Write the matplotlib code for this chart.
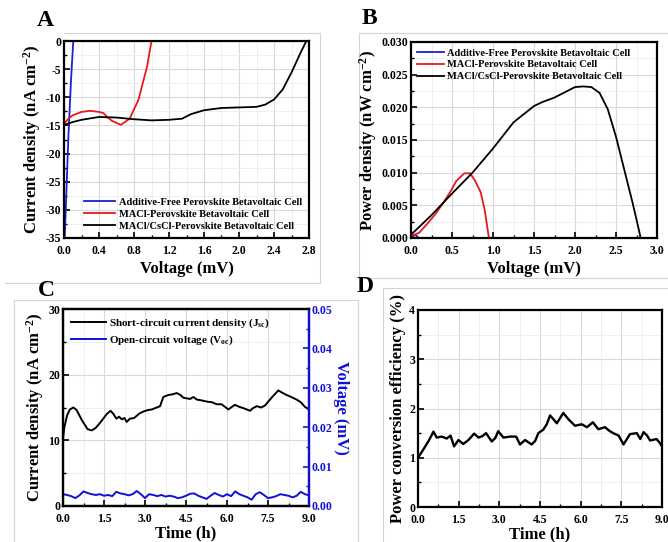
import matplotlib
matplotlib.use("Agg")
import matplotlib.pyplot as plt
from matplotlib.ticker import MultipleLocator, FormatStrFormatter
from matplotlib.lines import Line2D

plt.rcParams['font.family'] = ['Liberation Serif', 'DejaVu Serif']
plt.rcParams['font.weight'] = 'bold'
plt.rcParams['mathtext.fontset'] = 'custom'
plt.rcParams['mathtext.rm'] = 'Liberation Serif:bold'
plt.rcParams['mathtext.it'] = 'Liberation Serif:bold'
plt.rcParams['mathtext.bf'] = 'Liberation Serif:bold'

# ---------------- Data ----------------
# Panel A: J-V curves
a_blue_v = [0.0, 0.02, 0.05, 0.08, 0.106]
a_blue_j = [-38.0, -30.0, -17.0, -7.0, 0.0]
a_red_v = [0.0, 0.05, 0.1, 0.2, 0.3, 0.4, 0.45, 0.5, 0.55, 0.65, 0.75, 0.85, 0.95, 1.0]
a_red_j = [-14.7, -13.8, -13.2, -12.6, -12.4, -12.6, -12.8, -13.6, -14.2, -14.9, -13.8, -10.5, -4.5, 0.0]
a_blk_v = [0.0, 0.1, 0.2, 0.4, 0.6, 0.8, 1.0, 1.2, 1.35, 1.45, 1.6, 1.8, 2.0, 2.2, 2.3, 2.4, 2.5, 2.6, 2.7, 2.77]
a_blk_j = [-14.9, -14.4, -14.0, -13.5, -13.6, -13.9, -14.1, -14.0, -13.8, -13.0, -12.3, -11.9, -11.8, -11.7, -11.3, -10.4, -8.6, -5.6, -2.2, 0.0]

# Panel B: P-V curves
b_blue_v = [0.0, 0.05, 0.1]
b_blue_p = [0.0, 0.0005, 0.0]
b_red_v = [0.0, 0.1, 0.2, 0.3, 0.4, 0.5, 0.55, 0.65, 0.72, 0.78, 0.85, 0.9, 0.95]
b_red_p = [0.0003, 0.0008, 0.0022, 0.0037, 0.0055, 0.0075, 0.0087, 0.0099, 0.0099, 0.0088, 0.0070, 0.0042, 0.0]
b_blk_v = [0.0, 0.25, 0.5, 0.75, 1.0, 1.25, 1.5, 1.6, 1.75, 2.0, 2.1, 2.2, 2.3, 2.4, 2.5, 2.6, 2.7, 2.78, 2.8]
b_blk_p = [0.0005, 0.0035, 0.0068, 0.0100, 0.0137, 0.0177, 0.0202, 0.0208, 0.0215, 0.0231, 0.0232, 0.0231, 0.0222, 0.0197, 0.0155, 0.0105, 0.0055, 0.0012, 0.0]

# Panel C: stability (Jsc and Voc)
c_t = [0.0, 0.05, 0.15, 0.25, 0.38, 0.5, 0.7, 0.9, 1.05, 1.2, 1.4, 1.6, 1.74, 1.85, 1.95, 2.05, 2.15, 2.25, 2.33,
       2.45, 2.6, 2.8, 2.95, 3.1, 3.25, 3.43, 3.55, 3.67, 3.85, 4.0, 4.16, 4.3, 4.4, 4.52, 4.65, 4.77, 4.9,
       5.05, 5.26, 5.45, 5.62, 5.8, 6.05, 6.18, 6.29, 6.45, 6.6, 6.84, 6.95, 7.09, 7.25, 7.39, 7.57, 7.72, 7.88,
       8.0, 8.18, 8.35, 8.55, 8.7, 8.85, 9.0]
c_jsc = [10.3, 12.0, 13.8, 14.7, 15.0, 14.6, 13.0, 11.7, 11.5, 11.9, 12.9, 14.0, 14.5, 14.0, 13.3, 13.6, 13.2, 13.4, 12.8,
         13.3, 13.4, 14.1, 14.4, 14.6, 14.7, 15.0, 15.2, 16.6, 16.9, 17.0, 17.2, 16.9, 16.5, 16.4, 16.3, 16.6, 16.2,
         16.1, 15.9, 15.8, 15.5, 15.5, 14.7, 15.1, 15.4, 15.1, 14.9, 14.5, 14.9, 15.2, 15.0, 15.3, 16.2, 16.9, 17.6,
         17.3, 16.9, 16.6, 16.2, 15.8, 15.1, 14.7]
c_vt = [0.0, 0.15, 0.3, 0.45, 0.6, 0.75, 0.9, 1.05, 1.2, 1.35, 1.5, 1.65, 1.8, 1.95, 2.1, 2.25, 2.4, 2.55, 2.7, 2.85,
        3.0, 3.15, 3.3, 3.45, 3.6, 3.75, 3.9, 4.05, 4.2, 4.35, 4.5, 4.65, 4.8, 4.95, 5.1, 5.25, 5.4, 5.55, 5.7, 5.85,
        6.0, 6.15, 6.3, 6.45, 6.6, 6.75, 6.9, 7.05, 7.2, 7.35, 7.5, 7.65, 7.8, 7.95, 8.1, 8.25, 8.4, 8.55, 8.7, 8.85, 9.0]
c_voc = [0.0030, 0.0028, 0.0025, 0.0020, 0.0027, 0.0037, 0.0033, 0.0030, 0.0028, 0.0030, 0.0026, 0.0028, 0.0025, 0.0036,
         0.0032, 0.0030, 0.0027, 0.0030, 0.0038, 0.0030, 0.0020, 0.0030, 0.0028, 0.0025, 0.0028, 0.0024, 0.0026, 0.0024,
         0.0020, 0.0022, 0.0026, 0.0031, 0.0032, 0.0026, 0.0022, 0.0018, 0.0026, 0.0033, 0.0028, 0.0024, 0.0030, 0.0025,
         0.0037, 0.0030, 0.0026, 0.0022, 0.0016, 0.0030, 0.0035, 0.0028, 0.0020, 0.0022, 0.0025, 0.0030, 0.0028, 0.0026,
         0.0022, 0.0026, 0.0036, 0.0030, 0.0027]

# Panel D: PCE stability
d_t = [0.0, 0.2, 0.4, 0.57, 0.69, 0.87, 1.06, 1.2, 1.33, 1.49, 1.67, 1.86, 2.07, 2.23, 2.38, 2.51, 2.72, 2.85, 2.96,
       3.15, 3.4, 3.62, 3.76, 3.95, 4.19, 4.32, 4.44, 4.62, 4.75, 4.87, 5.0, 5.12, 5.36, 5.55, 5.79, 6.04, 6.23,
       6.45, 6.65, 6.9, 7.05, 7.2, 7.4, 7.58, 7.82, 8.07, 8.2, 8.32, 8.45, 8.56, 8.8, 8.92, 9.0]
d_pce = [1.0, 1.17, 1.35, 1.53, 1.41, 1.43, 1.39, 1.45, 1.23, 1.36, 1.28, 1.36, 1.49, 1.41, 1.44, 1.50, 1.33, 1.40, 1.54,
         1.41, 1.43, 1.43, 1.27, 1.36, 1.27, 1.34, 1.50, 1.57, 1.68, 1.86, 1.78, 1.70, 1.91, 1.78, 1.65, 1.68, 1.62,
         1.72, 1.58, 1.62, 1.55, 1.50, 1.45, 1.27, 1.48, 1.50, 1.38, 1.52, 1.45, 1.35, 1.38, 1.30, 1.23]

labels_cells = ['Additive-Free Perovskite Betavoltaic Cell',
                'MACl-Perovskite Betavoltaic Cell',
                'MACl/CsCl-Perovskite Betavoltaic Cell']
colors_cells = ['#1f1fd0', '#e8191b', 'black']

W, H = 668, 542
fig = plt.figure(figsize=(W / 100, H / 100), dpi=100)


def px_axes(l, t, r, b):
    return fig.add_axes([l / W, 1 - b / H, (r - l) / W, (b - t) / H])


def style(ax, xmaj, xmin, ymaj, ymin, fmtx, fmty):
    ax.xaxis.set_major_locator(MultipleLocator(xmaj))
    ax.xaxis.set_minor_locator(MultipleLocator(xmin))
    ax.yaxis.set_major_locator(MultipleLocator(ymaj))
    ax.yaxis.set_minor_locator(MultipleLocator(ymin))
    ax.xaxis.set_major_formatter(FormatStrFormatter(fmtx))
    ax.yaxis.set_major_formatter(FormatStrFormatter(fmty))
    ax.grid(True, which='major', color='#d9d9d9', lw=0.8)
    ax.grid(True, which='minor', color='#ececec', lw=0.6)
    ax.set_axisbelow(True)
    ax.tick_params(which='both', direction='in', labelsize=8.5, top=False, right=False)
    ax.tick_params(axis='x', which='both', pad=5)
    ax.tick_params(axis='y', which='both', pad=2)
    ax.tick_params(which='major', length=4, width=1.2)
    ax.tick_params(which='minor', length=2, width=1.0)
    for s in ax.spines.values():
        s.set_linewidth(1.6)
    for lab in ax.get_xticklabels() + ax.get_yticklabels():
        lab.set_fontweight('bold')


LBL = 12

# ---------- Panel A ----------
axA = px_axes(64, 41, 309, 238)
axA.plot(a_blue_v, a_blue_j, color=colors_cells[0], lw=1.3, label=labels_cells[0])
axA.plot(a_red_v, a_red_j, color=colors_cells[1], lw=1.3, label=labels_cells[1])
axA.plot(a_blk_v, a_blk_j, color=colors_cells[2], lw=1.3, label=labels_cells[2])
axA.set_xlim(0, 2.8)
axA.set_ylim(-35, 0)
style(axA, 0.4, 0.2, 5, 2.5, '%.1f', '%d')
axA.set_xlabel('Voltage (mV)', fontsize=LBL, fontweight='bold', labelpad=3)
axA.set_ylabel('Current density (nA cm$^{-2}$)', fontsize=LBL, fontweight='bold', labelpad=2)
axA.legend(loc='lower right', frameon=False, handlelength=3.0, handletextpad=0.3,
           labelspacing=0.25, borderaxespad=0.3, prop={'weight': 'bold', 'size': 7.5})

# ---------- Panel B ----------
axB = px_axes(411, 42, 657, 238)
axB.plot(b_blue_v, b_blue_p, color=colors_cells[0], lw=1.3, label=labels_cells[0])
axB.plot(b_red_v, b_red_p, color=colors_cells[1], lw=1.3, label=labels_cells[1])
axB.plot(b_blk_v, b_blk_p, color=colors_cells[2], lw=1.3, label=labels_cells[2])
axB.set_xlim(0, 3.0)
axB.set_ylim(0, 0.030)
style(axB, 0.5, 0.25, 0.005, 0.0025, '%.1f', '%.3f')
axB.set_xlabel('Voltage (mV)', fontsize=LBL, fontweight='bold', labelpad=3)
axB.set_ylabel('Power density (nW cm$^{-2}$)', fontsize=LBL, fontweight='bold', labelpad=2)
axB.legend(loc='upper left', frameon=False, handlelength=2.6, handletextpad=0.3,
           labelspacing=0.25, borderaxespad=0.2, prop={'weight': 'bold', 'size': 7.5})

# ---------- Panel C ----------
axC = px_axes(63, 309, 309, 506)
l1, = axC.plot(c_t, c_jsc, color='black', lw=1.4, label='Short-circuit current density (J$_{sc}$)')
axC.set_xlim(0, 9.0)
axC.set_ylim(0, 30)
style(axC, 1.5, 0.75, 10, 5, '%.1f', '%d')
axC.set_xlabel('Time (h)', fontsize=LBL, fontweight='bold', labelpad=0)
axC.set_ylabel('Current density (nA cm$^{-2}$)', fontsize=LBL, fontweight='bold', labelpad=2)
axC2 = axC.twinx()
l2, = axC2.plot(c_vt, c_voc, color='#1010d8', lw=1.4, label='Open-circuit voltage (V$_{oc}$)')
axC2.set_ylim(0, 0.05)
axC2.yaxis.set_major_locator(MultipleLocator(0.01))
axC2.yaxis.set_minor_locator(MultipleLocator(0.005))
axC2.yaxis.set_major_formatter(FormatStrFormatter('%.2f'))
axC2.tick_params(axis='y', which='both', direction='in', colors='#1010d8', labelsize=8.5, pad=2)
axC2.tick_params(axis='y', which='major', length=4, width=1.2)
axC2.tick_params(axis='y', which='minor', length=2, width=1.0)
for lab in axC2.get_yticklabels():
    lab.set_fontweight('bold')
for s in axC2.spines.values():
    s.set_linewidth(1.6)
axC2.spines['right'].set_color('#1010d8')
axC2.set_ylabel('Voltage (mV)', fontsize=LBL, fontweight='bold', color='#1010d8', rotation=270, labelpad=12)
axC.legend(handles=[l1, l2], loc='upper left', frameon=False, handlelength=3.2, handletextpad=0.2,
           labelspacing=0.3, borderaxespad=0.3, prop={'weight': 'bold', 'size': 8})

# ---------- Panel D ----------
axD = px_axes(418, 310, 662, 507)
axD.plot(d_t, d_pce, color='black', lw=1.7)
axD.set_xlim(0, 9.0)
axD.set_ylim(0, 4)
style(axD, 1.5, 0.75, 1, 0.5, '%.1f', '%d')
axD.set_xlabel('Time (h)', fontsize=LBL, fontweight='bold', labelpad=0)
axD.set_ylabel('Power conversion efficiency (%)', fontsize=LBL, fontweight='bold', labelpad=2)

# ---------- Panel letters ----------
for txt, x, y in [('A', 37, 20), ('B', 362, 19), ('C', 38, 290), ('D', 357, 287)]:
    fig.text(x / W, 1 - y / H, txt, fontsize=17, fontweight='bold', va='center', ha='left')

# ---------- Light panel frames ----------
frame_segments = [
    ((64, 33), (320, 33)), ((320, 33), (320, 283)), ((5, 283), (320, 283)),
    ((359, 33), (668, 33)), ((359, 33), (359, 278)), ((359, 278), (668, 278)),
    ((14, 300), (358, 300)), ((14, 300), (14, 542)), ((358, 300), (358, 542)),
    ((383, 288), (668, 288)), ((383, 288), (383, 542)),
]
for (x0, y0), (x1, y1) in frame_segments:
    fig.add_artist(Line2D([x0 / W, x1 / W], [1 - y0 / H, 1 - y1 / H], color='#d4d4d4', lw=0.8,
                          transform=fig.transFigure, zorder=0))

fig.savefig('out.png', dpi=100)
